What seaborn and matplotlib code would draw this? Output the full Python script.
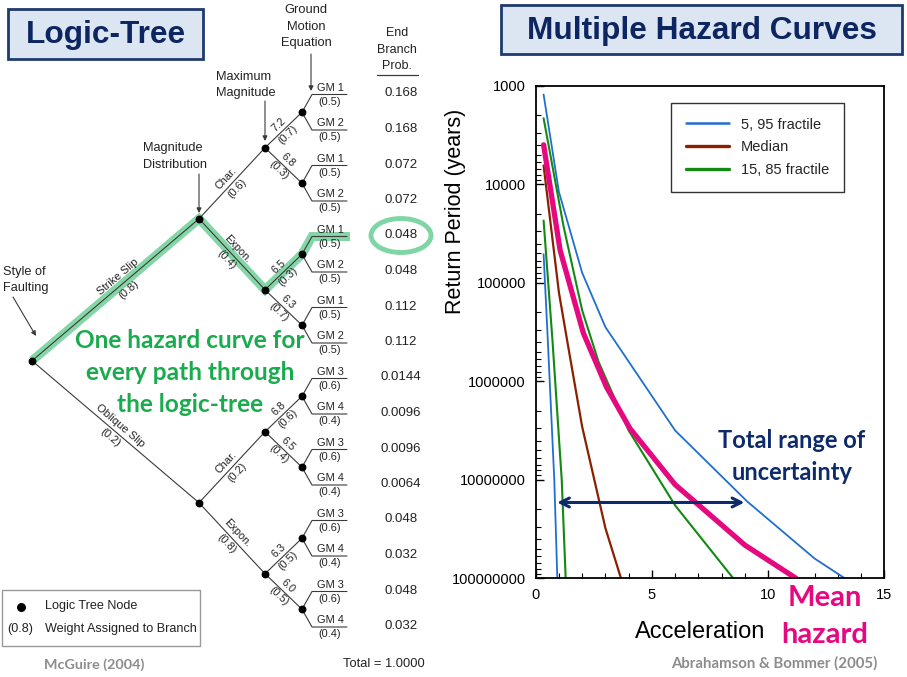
import math
import numpy as np
import pandas as pd
import matplotlib
matplotlib.use("Agg")
import matplotlib.pyplot as plt
import seaborn as sns
from matplotlib.lines import Line2D
from matplotlib.patches import Rectangle, Ellipse
from matplotlib.ticker import FixedLocator, FuncFormatter, MultipleLocator, LogLocator, NullFormatter

# ---------------- data: logic tree ----------------
fault_styles = ["Strike Slip", "Oblique Slip"]
fault_weights = ["(0.8)", "(0.2)"]
mag_dists = ["Char.", "Expon.", "Char.", "Expon."]
mag_dist_weights = ["(0.6)", "(0.4)", "(0.2)", "(0.8)"]
max_mags = ["7.2", "6.8", "6.5", "6.3", "6.8", "6.5", "6.3", "6.0"]
max_mag_weights = ["(0.7)", "(0.3)", "(0.3)", "(0.7)", "(0.6)", "(0.4)", "(0.5)", "(0.5)"]
gm_labels = ["GM 1", "GM 2"] * 4 + ["GM 3", "GM 4"] * 4
gm_weights = ["(0.5)", "(0.5)"] * 4 + ["(0.6)", "(0.4)"] * 4
end_probs = ["0.168", "0.168", "0.072", "0.072", "0.048", "0.048", "0.112", "0.112",
             "0.0144", "0.0096", "0.0096", "0.0064", "0.048", "0.032", "0.048", "0.032"]
highlight_leaf = 4

# ---------------- data: hazard curves ----------------
accel_595_hi = [0.34, 1.0, 2.0, 3.0, 6.0, 9.1, 12.0, 13.3]
rp_595_hi = [1230, 12000, 79400, 282000, 3.16e6, 1.66e7, 6.3e7, 1.0e8]
accel_595_lo = [0.34, 0.52, 0.80, 0.93]
rp_595_lo = [51300, 380000, 1.0e7, 1.0e8]
accel_1585_hi = [0.34, 1.2, 2.0, 2.7, 4.0, 6.0, 8.5]
rp_1585_hi = [2140, 26900, 191000, 631000, 3.16e6, 1.82e7, 1.0e8]
accel_1585_lo = [0.34, 0.72, 1.12, 1.29]
rp_1585_lo = [23400, 380000, 1.0e7, 1.0e8]
accel_median = [0.34, 1.0, 1.4, 2.0, 3.0, 3.67]
rp_median = [6460, 126000, 447000, 2.9e6, 3.1e7, 1.0e8]
accel_mean = [0.34, 1.05, 2.05, 3.05, 4.05, 6.0, 9.0, 11.2]
rp_mean = [3980, 46800, 324000, 1.15e6, 3.0e6, 1.12e7, 4.6e7, 1.0e8]
yticks_rp = [1000, 10000, 100000, 1000000, 10000000, 100000000]
xticks_acc = [0, 5, 10, 15]
legend_labels = ["5, 95 fractile", "Median", "15, 85 fractile"]

BLUE = "#1f6fd0"
BROWN = "#8b2000"
GREEN = "#128a12"
PINK = "#e5087f"
NAVY = "#0d2560"

sns.set_theme(style="white")
plt.rcParams["font.family"] = ["Liberation Sans", "DejaVu Sans"]

fig = plt.figure(figsize=(9.07, 6.77), dpi=100)
W, H = 907.0, 677.0

# ---------------- hazard chart ----------------
ax = fig.add_axes([535.7 / W, 1 - 578.3 / H, 348.6 / W, 492.6 / H])
curves = [
    ("595_hi", accel_595_hi, rp_595_hi, BLUE, 1.3),
    ("595_lo", accel_595_lo, rp_595_lo, BLUE, 1.3),
    ("1585_hi", accel_1585_hi, rp_1585_hi, GREEN, 1.5),
    ("1585_lo", accel_1585_lo, rp_1585_lo, GREEN, 1.5),
    ("median", accel_median, rp_median, BROWN, 1.6),
    ("mean", accel_mean, rp_mean, PINK, 3.8),
]
for name, xs, ys, col, lw in curves:
    df = pd.DataFrame({"accel": xs, "rp": ys})
    sns.lineplot(data=df, x="accel", y="rp", color=col, lw=lw, ax=ax,
                 sort=False, estimator=None, legend=False)
ax.set_yscale("log")
ax.set_ylim(yticks_rp[-1], yticks_rp[0])
ax.set_xlim(xticks_acc[0], xticks_acc[-1])
ax.yaxis.set_major_locator(FixedLocator(yticks_rp))
ax.yaxis.set_major_formatter(FuncFormatter(lambda v, p: f"{int(round(v))}"))
ax.yaxis.set_minor_locator(LogLocator(base=10, subs=np.arange(2, 10)))
ax.yaxis.set_minor_formatter(NullFormatter())
ax.xaxis.set_major_locator(FixedLocator(xticks_acc))
ax.xaxis.set_minor_locator(MultipleLocator(1))
ax.tick_params(which="both", direction="in", colors="black", labelsize=10.5, pad=7)
ax.tick_params(which="major", length=6, width=1)
ax.tick_params(which="minor", length=3.5, width=0.8)
ax.tick_params(axis="y", which="both", left=True)
ax.tick_params(axis="x", which="both", bottom=True)
for sp in ax.spines.values():
    sp.set_color("black")
    sp.set_linewidth(1.3)
ax.set_xlabel("Acceleration", fontsize=17, color="black")
ax.xaxis.set_label_coords((700 - 535.7) / 348.6, (578.3 - 632) / 492.6)
ax.xaxis.label.set_va("center")
ax.set_ylabel("Return Period (years)", fontsize=15.5, color="black")
ax.yaxis.set_label_coords((455 - 535.7) / 348.6, (578.3 - 211.7) / 492.6)
ax.yaxis.label.set_va("center")

handles = [Line2D([], [], color=BLUE, lw=1.8), Line2D([], [], color=BROWN, lw=2.4),
           Line2D([], [], color=GREEN, lw=2.4)]
leg = ax.legend(handles, legend_labels, loc="upper left", bbox_to_anchor=(0.388, 0.965),
                borderaxespad=0, fontsize=10.5, handlelength=3.0, frameon=True,
                fancybox=False, edgecolor="#333333", framealpha=1, borderpad=1.0,
                labelspacing=0.6, handletextpad=0.8)
leg.get_frame().set_linewidth(1.0)

ax.annotate("", xy=(0.8, 1.7e7), xytext=(9.1, 1.7e7),
            arrowprops=dict(arrowstyle="<->", color="#0d2a6b", lw=2.2, mutation_scale=16))

# ---------------- overlay (logic tree + annotations) ----------------
ov = fig.add_axes([0, 0, 1, 1])
ov.set_xlim(0, W)
ov.set_ylim(H, 0)
ov.axis("off")

LINE = "#3a3a3a"
TXT = "#222222"

# title boxes
for (x0, y0, x1, y1, label) in [(8, 9, 203, 59, "Logic-Tree"), (501, 5, 902, 54, "Multiple Hazard Curves")]:
    ov.add_patch(Rectangle((x0, y0), x1 - x0, y1 - y0, facecolor="#dce6f2",
                           edgecolor="#1f3a6e", lw=2.0, zorder=2))
    ov.text((x0 + x1) / 2, (y0 + y1) / 2 + 1, label, ha="center", va="center",
            fontsize=22.8, fontweight="bold", color=NAVY, zorder=3)

# layout of tree
X_ROOT, X_DIST, X_MAG, X_GM, X_L0, X_L1 = 32, 199, 265, 302, 312, 347
leaf_y = [94.5 + 35.5 * i for i in range(len(end_probs))]
gm_y = [(leaf_y[2 * k] + leaf_y[2 * k + 1]) / 2 for k in range(8)]
mag_y = [(gm_y[2 * k] + gm_y[2 * k + 1]) / 2 for k in range(4)]
dist_y = [(mag_y[2 * k] + mag_y[2 * k + 1]) / 2 for k in range(2)]
root_y = (dist_y[0] + dist_y[1]) / 2


def branch(p0, p1, top, bot, off=7.0, fs=7.8, shift=0.0):
    ov.plot([p0[0], p1[0]], [p0[1], p1[1]], color=LINE, lw=0.8, zorder=2)
    dx, dy = p1[0] - p0[0], p1[1] - p0[1]
    L = math.hypot(dx, dy)
    ang = math.degrees(math.atan2(-dy, dx))
    nx, ny = dy / L, -dx / L
    mx = (p0[0] + p1[0]) / 2 + shift * dx / L
    my = (p0[1] + p1[1]) / 2 + shift * dy / L
    for sgn, s in ((1, top), (-1, bot)):
        ov.text(mx + sgn * off * nx, my + sgn * off * ny, s, rotation=ang,
                rotation_mode="anchor", ha="center", va="center", fontsize=fs,
                color=TXT, zorder=4)


# highlight path
hp = [(X_ROOT, root_y), (X_DIST, dist_y[0]), (X_MAG, mag_y[1]), (X_GM, gm_y[2]),
      (X_L0, leaf_y[highlight_leaf]), (X_L1 + 3, leaf_y[highlight_leaf])]
ov.plot([p[0] for p in hp], [p[1] for p in hp], color="#5cc98a", alpha=0.75, lw=6.5,
        solid_joinstyle="miter", solid_capstyle="butt", zorder=1)

# branches
for i in range(2):
    branch((X_ROOT, root_y), (X_DIST, dist_y[i]), fault_styles[i], fault_weights[i],
           off=8, fs=8.0, shift=10 if i == 0 else 0)
for k in range(4):
    branch((X_DIST, dist_y[k // 2]), (X_MAG, mag_y[k]), mag_dists[k], mag_dist_weights[k], off=7.5)
for k in range(8):
    branch((X_MAG, mag_y[k // 2]), (X_GM, gm_y[k]), max_mags[k], max_mag_weights[k], off=7)
for i in range(len(end_probs)):
    g = gm_y[i // 2]
    ly = leaf_y[i]
    ov.plot([X_GM, X_L0, X_L1], [g, ly, ly], color=LINE, lw=0.8, zorder=2)
    ov.text(330, ly - 6.8, gm_labels[i], ha="center", va="center", fontsize=7.9, color=TXT, zorder=4)
    ov.text(330, ly + 7.4, gm_weights[i], ha="center", va="center", fontsize=7.9, color=TXT, zorder=4)
    ov.text(401, ly - 1, end_probs[i], ha="center", va="center", fontsize=9.5, color=TXT, zorder=4)

# nodes
node_x = [X_ROOT] + [X_DIST] * 2 + [X_MAG] * 4 + [X_GM] * 8
node_y = [root_y] + dist_y + mag_y + gm_y
ov.scatter(node_x, node_y, s=32, color="black", zorder=5, linewidths=0)

# highlight ellipse
ov.add_patch(Ellipse((401, leaf_y[highlight_leaf] - 1), 60, 34, fill=False,
                     edgecolor="#7fd6a4", lw=3.5, zorder=3))


def lines_text(x, ys, strs, ha="center", fs=9.0):
    for y, s in zip(ys, strs):
        ov.text(x, y, s, ha=ha, va="center", fontsize=fs, color=TXT, zorder=4)


lines_text(306, [10, 27, 43], ["Ground", "Motion", "Equation"], fs=9.3)
lines_text(397, [33, 50, 66], ["End", "Branch", "Prob."])
ov.plot([377, 418], [75, 75], color=LINE, lw=0.9)
lines_text(216, [77, 93], ["Maximum", "Magnitude"], ha="left", fs=9.2)
lines_text(143, [148, 165], ["Magnitude", "Distribution"], ha="left", fs=9.2)
lines_text(3, [272, 288], ["Style of", "Faulting"], ha="left", fs=9.2)

arrow_kw = dict(arrowstyle="-|>", color=LINE, lw=0.8, mutation_scale=7, shrinkA=0, shrinkB=0)
for (x0, y0, x1, y1) in [(311, 54, 311, 91), (265, 101, 265, 141), (199, 174, 199, 213), (13, 297, 36, 336)]:
    ov.annotate("", xy=(x1, y1), xytext=(x0, y0), arrowprops=arrow_kw, zorder=4)

# legend box for the tree
ov.add_patch(Rectangle((2, 590), 198, 56, fill=False, edgecolor="#999999", lw=1.0))
ov.scatter([21], [607], s=42, color="black", linewidths=0)
ov.text(45, 606, "Logic Tree Node", ha="left", va="center", fontsize=9.1, color=TXT)
ov.text(20, 629, "(0.8)", ha="center", va="center", fontsize=9.1, color=TXT)
ov.text(45, 629, "Weight Assigned to Branch", ha="left", va="center", fontsize=9.1, color=TXT)

# green statement
for y, s in zip([341, 373, 405], ["One hazard curve for", "every path through", "the logic-tree"]):
    ov.text(190, y, s, ha="center", va="center", fontsize=17.6, fontweight="bold",
            color="#1aab4e", family=["Lato", "DejaVu Sans"], zorder=6)

# sources
ov.text(94, 665, "McGuire (2004)", ha="center", va="center", fontsize=10.4, fontweight="bold",
        color="#8c8c8c", family=["Lato", "DejaVu Sans"])
ov.text(384, 664, "Total = 1.0000", ha="center", va="center", fontsize=9.3, color=TXT)
ov.text(774, 663, "Abrahamson & Bommer (2005)", ha="center", va="center", fontsize=10.8,
        fontweight="bold", color="#8c8c8c", family=["Lato", "DejaVu Sans"])

# right-side annotations
ov.text(792, 440, "Total range of", ha="center", va="center", fontsize=17, fontweight="bold",
        color="#0d2a6b", family=["Lato", "DejaVu Sans"])
ov.text(792, 473, "uncertainty", ha="center", va="center", fontsize=17, fontweight="bold",
        color="#0d2a6b", family=["Lato", "DejaVu Sans"])
ov.text(825, 598, "Mean", ha="center", va="center", fontsize=21, fontweight="bold",
        color=PINK, family=["Lato", "DejaVu Sans"])
ov.text(825, 635, "hazard", ha="center", va="center", fontsize=21, fontweight="bold",
        color=PINK, family=["Lato", "DejaVu Sans"])

fig.savefig("out.png", dpi=100)
